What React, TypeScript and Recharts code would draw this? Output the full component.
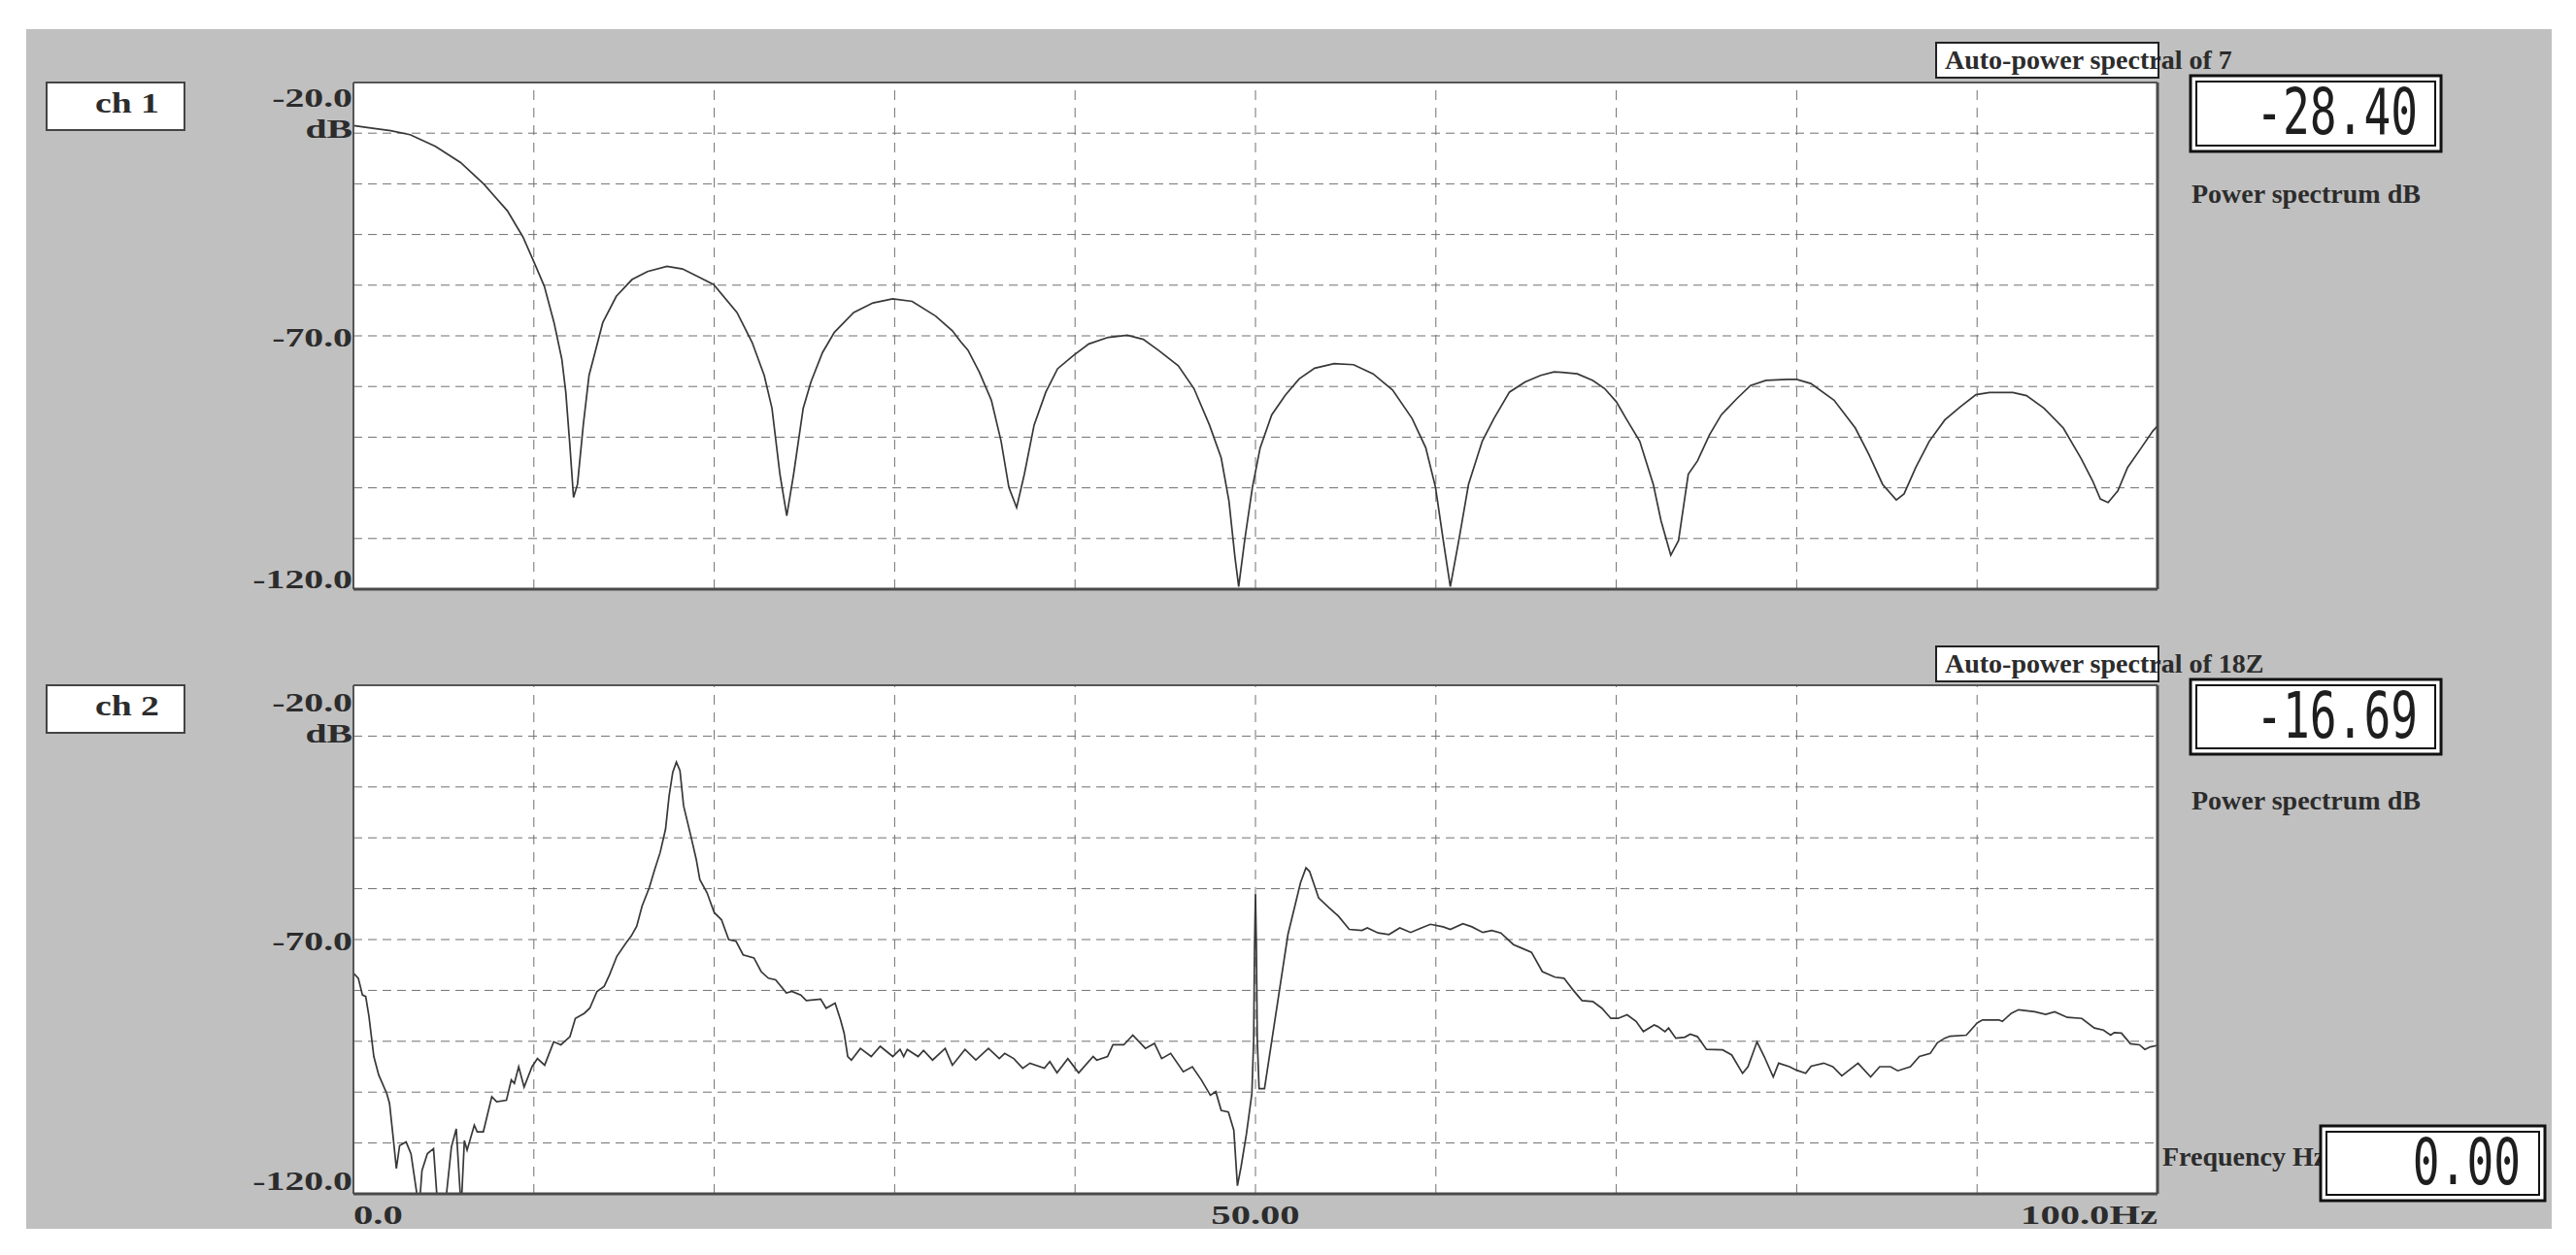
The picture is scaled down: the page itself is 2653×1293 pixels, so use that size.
import React from "react";
import { LineChart, Line, XAxis, YAxis, CartesianGrid, ReferenceLine } from "recharts";

// ---------- data ----------
const ch1Freq = [
  0, 0.76, 2.06, 3.14, 4.54, 5.94, 7.24, 8.53, 9.4, 10.04, 10.58, 11.12, 11.55, 11.77, 11.98, 12.2, 12.42, 12.74,
  13.06, 13.39, 13.82, 14.57, 15.44, 16.3, 17.38, 18.24, 19.1, 19.97, 21.26, 22.1, 22.77, 23.2, 23.64, 24.02, 24.4,
  24.93, 25.36, 26.0, 26.66, 27.73, 28.8, 29.89, 30.97, 32.27, 33.2, 33.67, 34.06, 34.7, 35.36, 35.9, 36.33, 36.76,
  37.19, 37.73, 38.38, 39.03, 39.9, 40.76, 41.84, 42.9, 43.78, 44.64, 45.72, 46.59, 47.45, 48.1, 48.53, 48.86, 49.07,
  49.4, 49.83, 50.26, 50.9, 51.66, 52.42, 53.28, 54.36, 55.44, 56.52, 57.6, 58.68, 59.44, 59.98, 60.41, 60.8, 61.27,
  61.81, 62.57, 63.22, 64.08, 64.95, 65.81, 66.55, 67.0, 67.84, 68.7, 69.35, 70.0, 70.54, 71.3, 72.05, 72.48, 73.02,
  73.45, 73.99, 74.5, 75.17, 75.82, 76.68, 77.44, 78.3, 79.48, 80.0, 80.78, 82.07, 83.25, 84.0, 84.76, 85.52, 85.95,
  86.6, 87.35, 88.21, 89.07, 89.94, 90.69, 91.98, 92.74, 93.71, 94.78, 95.75, 96.4, 96.83, 97.26, 97.8, 98.34, 99.1,
  99.74, 100,
];
const ch1Db = [
  -28.5, -28.9, -29.5, -30.3, -32.6, -35.8, -40.1, -45.3, -50.5, -55.7, -60.2, -67.4, -74.6, -81.1, -90.8, -101.9,
  -99.3, -87.6, -77.8, -73.3, -67.4, -62.2, -58.9, -57.3, -56.3, -56.8, -58.3, -59.9, -65.4, -71.3, -77.8, -84.3,
  -97.3, -105.5, -97.3, -84.3, -79.1, -73.3, -69.3, -65.4, -63.5, -62.7, -63.2, -66.1, -69.0, -71.2, -72.8, -77.2,
  -82.7, -90.8, -99.9, -103.9, -97.3, -87.6, -81.1, -76.5, -73.9, -71.6, -70.3, -69.9, -70.7, -72.9, -75.9, -80.4,
  -87.6, -94.1, -102.6, -113.6, -119.5, -110.4, -99.9, -92.1, -85.6, -81.7, -78.5, -76.4, -75.5, -75.7, -77.5, -80.7,
  -86.3, -92.1, -99.9, -110.4, -119.5, -110.4, -99.3, -90.8, -86.3, -81.1, -79.1, -77.8, -77.1, -77.2, -77.5, -78.8,
  -80.4, -83.0, -86.3, -90.8, -99.3, -106.5, -113.3, -110.4, -97.3, -94.7, -89.5, -85.6, -82.4, -79.8, -78.8, -78.6,
  -78.6, -79.4, -82.7, -88.2, -93.4, -99.3, -102.4, -101.2, -96.0, -90.8, -86.6, -84.0, -81.6, -81.2, -81.2, -81.8,
  -84.3, -88.2, -94.1, -98.6, -102.2, -102.9, -100.6, -96.0, -92.1, -88.8, -87.8,
];

const ch2Freq = [
  0, 0.27, 0.5, 0.68, 0.86, 1.13, 1.4, 1.85, 2.0, 2.2, 2.38, 2.56, 2.92, 3.19, 3.64, 3.8, 4.1, 4.44, 4.68, 5.07, 5.43,
  5.7, 5.97, 6.15, 6.3, 6.7, 6.86, 7.2, 7.67, 7.94, 8.48, 8.75, 8.92, 9.16, 9.46, 9.9, 10.2, 10.6, 11.1, 11.5, 12.0,
  12.3, 12.8, 13.1, 13.5, 13.9, 14.2, 14.6, 15.1, 15.4, 15.7, 16.0, 16.4, 16.7, 17.0, 17.3, 17.5, 17.7, 17.9, 18.1,
  18.3, 18.7, 19.0, 19.2, 19.6, 20.0, 20.4, 20.8, 21.2, 21.6, 22.2, 22.6, 23.0, 23.4, 24.0, 24.3, 24.8, 25.1, 25.9,
  26.2, 26.7, 27.0, 27.2, 27.4, 27.6, 28.1, 28.7, 29.2, 29.9, 30.3, 30.5, 30.7, 31.3, 31.6, 32.1, 32.8, 33.2, 33.9,
  34.5, 35.2, 35.8, 36.1, 36.6, 37.1, 37.5, 38.3, 38.6, 39.0, 39.6, 40.2, 41.0, 41.2, 41.8, 42.1, 42.7, 43.2, 43.9,
  44.4, 44.8, 45.3, 46.0, 46.5, 47.0, 47.5, 47.8, 48.1, 48.5, 48.8, 49.0, 49.2, 49.5, 49.8, 49.9, 49.95, 50.0, 50.05,
  50.1, 50.2, 50.5, 51.8, 52.5, 52.8, 53.0, 53.5, 54.1, 54.6, 55.2, 55.9, 56.2, 56.8, 57.4, 58.0, 58.6, 59.2, 59.7,
  60.4, 60.8, 61.5, 62.0, 62.6, 63.1, 63.6, 64.3, 64.7, 65.3, 65.9, 66.6, 67.1, 67.6, 68.1, 68.7, 69.2, 69.7, 70.1,
  70.6, 71.1, 71.5, 72.1, 72.3, 72.7, 72.9, 73.3, 73.8, 74.1, 74.5, 75.0, 75.9, 76.4, 77.0, 77.3, 77.8, 78.2, 78.7,
  79.0, 79.6, 80.0, 80.5, 80.8, 81.5, 82.0, 82.5, 83.4, 84.1, 84.6, 85.2, 85.6, 86.3, 86.8, 87.4, 87.8, 88.2, 88.5,
  89.4, 90.0, 90.3, 91.2, 91.4, 91.9, 92.3, 93.2, 93.8, 94.3, 95.0, 95.8, 96.5, 97.0, 97.4, 97.6, 98.0, 98.5, 99.0,
  99.3, 99.6, 100,
];
const ch2Db = [
  -76.6, -77.6, -80.9, -81.2, -85.1, -93.0, -96.6, -100.3, -102.2, -108.8, -115.0, -110.5, -109.8, -112.1, -123.0,
  -115.4, -112.1, -111.1, -123.0, -123.0, -110.8, -107.2, -123.0, -109.5, -111.4, -106.5, -107.8, -107.8, -100.9,
  -101.9, -101.6, -97.6, -98.3, -95.0, -99.0, -95.0, -93.4, -94.7, -90.1, -90.7, -89.1, -85.5, -84.5, -83.5, -80.2,
  -79.2, -76.9, -73.3, -70.7, -69.3, -67.4, -63.4, -59.8, -56.2, -52.9, -48.3, -41.7, -37.1, -35.1, -36.8, -43.7,
  -49.6, -54.2, -58.2, -60.8, -64.7, -66.1, -70.0, -70.3, -73.0, -73.6, -76.3, -77.6, -77.9, -80.5, -80.2, -80.9,
  -82.0, -81.7, -83.5, -82.5, -85.8, -88.4, -93.0, -93.7, -91.4, -93.0, -91.0, -93.0, -91.6, -93.0, -91.6, -93.0,
  -91.8, -93.7, -91.4, -94.7, -91.6, -93.7, -91.4, -93.4, -92.4, -93.4, -95.3, -94.3, -95.3, -94.0, -96.2, -93.4,
  -96.2, -93.0, -93.7, -93.0, -90.7, -90.7, -88.8, -91.4, -90.4, -93.4, -92.4, -96.0, -95.0, -97.6, -100.6, -99.9,
  -103.6, -103.9, -107.5, -118.4, -114.7, -108.2, -100.3, -89.7, -71.0, -61.1, -71.0, -89.7, -99.3, -99.3, -69.0,
  -58.8, -55.9, -56.6, -61.8, -63.8, -65.4, -68.0, -68.2, -67.7, -68.7, -69.0, -67.7, -68.6, -67.7, -67.0, -67.5,
  -68.0, -66.9, -67.5, -68.6, -68.2, -68.7, -71.0, -71.6, -72.5, -76.3, -77.4, -77.6, -79.9, -82.0, -82.2, -83.5,
  -85.5, -85.5, -84.8, -86.1, -88.1, -86.8, -87.1, -88.1, -87.4, -89.4, -89.2, -88.6, -89.1, -91.6, -91.7, -92.7,
  -96.3, -95.0, -90.1, -93.0, -97.0, -94.3, -95.0, -95.7, -96.3, -94.9, -94.3, -95.0, -96.8, -94.3, -97.0, -95.0,
  -95.0, -95.8, -95.0, -93.0, -92.4, -90.3, -89.4, -89.0, -88.8, -86.4, -85.8, -85.8, -86.1, -84.5, -83.8, -84.2,
  -84.7, -84.2, -85.3, -85.5, -87.4, -87.8, -88.8, -88.3, -88.4, -90.5, -90.7, -91.6, -91.1, -90.8,
];

const yTicks = [-20, -70, -120];
const yTickLabels = ["-20.0", "-70.0", "-120.0"];
const yUnit = "dB";
const xTicks = [0, 50, 100];
const xTickLabels = ["0.0", "50.00", "100.0Hz"];
const gridDb = [-30, -40, -50, -60, -70, -80, -90, -100, -110];
const gridHz = [10, 20, 30, 40, 50, 60, 70, 80, 90];
const channelNames = ["ch 1", "ch 2"];
const chartTitles = ["Auto-power spectral of 7", "Auto-power spectral of 18Z"];
const readouts = ["-28.40", "-16.69"];
const readoutLabel = "Power spectrum dB";
const freqLabel = "Frequency Hz";
const freqReadout = "0.00";

const ch1Data = ch1Freq.map((f, i) => ({ f, db: ch1Db[i] }));
const ch2Data = ch2Freq.map((f, i) => ({ f, db: ch2Db[i] }));

// ---------- styling ----------
const SERIF = "'Liberation Serif', 'Times New Roman', serif";
const MONO = "'DejaVu Sans Mono', monospace";
const TXT = "#2c2c2c";

const makeYTick = (topDy: number, unitDy: number, bottomDy: number) => (props: any) => {
  const { x, y, payload } = props;
  const v = payload.value;
  const idx = yTicks.indexOf(v);
  const label = idx >= 0 ? yTickLabels[idx] : String(v);
  const isTop = idx === 0;
  const isBottom = idx === yTicks.length - 1;
  const by = isTop ? y + topDy : isBottom ? y + bottomDy : y + 11;
  const st = { fontFamily: SERIF, fontWeight: 700, fontSize: 28, fill: TXT } as any;
  return (
    <g>
      <text transform={`translate(${x - 1},${by}) scale(1.42,1)`} textAnchor="end" style={st}>
        {label}
      </text>
      {isTop && (
        <text transform={`translate(${x - 1},${y + unitDy}) scale(1.42,1)`} textAnchor="end" style={st}>
          {yUnit}
        </text>
      )}
    </g>
  );
};

const XTick = (props: any) => {
  const { x, y, payload } = props;
  const v = payload.value;
  const idx = xTicks.indexOf(v);
  const label = idx >= 0 ? xTickLabels[idx] : String(v);
  const anchor = idx === 0 ? "start" : idx === xTicks.length - 1 ? "end" : "middle";
  return (
    <text
      transform={`translate(${x},${y + 31}) scale(1.45,1)`}
      textAnchor={anchor}
      style={{ fontFamily: SERIF, fontWeight: 700, fontSize: 28, fill: TXT }}
    >
      {label}
    </text>
  );
};

function SpectrumChart({ data, showX, yTick }: { data: any[]; showX: boolean; yTick: any }) {
  return (
    <LineChart
      width={2240}
      height={showX ? 643 : 650}
      data={data}
      margin={showX ? { top: 56, right: 18, bottom: 23, left: 0 } : { top: 85, right: 18, bottom: 43, left: 0 }}
    >
      <CartesianGrid fill="#ffffff" horizontal={false} vertical={false} stroke="none" />
      <XAxis
        dataKey="f"
        type="number"
        domain={[0, 100]}
        ticks={xTicks}
        interval={0}
        hide={!showX}
        height={40}
        tickSize={0}
        tickMargin={0}
        axisLine={false}
        tickLine={false}
        tick={<XTick />}
      />
      <YAxis
        type="number"
        domain={[-120, -20]}
        allowDataOverflow
        ticks={yTicks}
        interval={0}
        width={364}
        tickSize={0}
        tickMargin={0}
        axisLine={false}
        tickLine={false}
        tick={yTick}
      />
      {gridDb.map((v) => (
        <ReferenceLine key={"gy" + v} y={v} stroke="#707070" strokeWidth={1} strokeDasharray="9 6" />
      ))}
      {gridHz.map((v) => (
        <ReferenceLine key={"gx" + v} x={v} stroke="#707070" strokeWidth={1} strokeDasharray="10 8" />
      ))}
      <Line
        type="linear"
        dataKey="db"
        stroke="#383838"
        strokeWidth={1.7}
        dot={false}
        activeDot={false}
        isAnimationActive={false}
      />
      <ReferenceLine x={0} stroke="#555555" strokeWidth={2} />
      <ReferenceLine y={-20} stroke="#555555" strokeWidth={2} />
      <ReferenceLine x={100} stroke="#4a4a4a" strokeWidth={3} />
      <ReferenceLine y={-120} stroke="#4a4a4a" strokeWidth={3} />
    </LineChart>
  );
}

function Readout({ x, y, w, h, value, right, base }: any) {
  return (
    <g>
      <rect x={x} y={y} width={w} height={h} fill="#ffffff" stroke="#111" strokeWidth={3} />
      <rect x={x + 6} y={y + 6} width={w - 12} height={h - 12} fill="#ffffff" stroke="#111" strokeWidth={2} />
      <text
        transform={`translate(${right},${base}) scale(0.7,1)`}
        textAnchor="end"
        style={{ fontFamily: MONO, fontSize: 66, fill: "#1e1e1e" }}
      >
        {value}
      </text>
    </g>
  );
}

function TitleBox({ y, base, text }: any) {
  return (
    <g>
      <rect x={1994} y={y} width={229} height={36} fill="#ffffff" />
      <text x={2003} y={base} style={{ fontFamily: SERIF, fontWeight: 700, fontSize: 28, fill: TXT }}>
        {text}
      </text>
      <rect x={1994} y={y} width={229} height={36} fill="none" stroke="#222" strokeWidth={2} />
    </g>
  );
}

function ChBox({ y, text }: any) {
  return (
    <g>
      <rect x={48} y={y} width={142} height={49} fill="#ffffff" stroke="#444" strokeWidth={2} />
      <text
        transform={`translate(98,${y + 31}) scale(1.3,1)`}
        style={{ fontFamily: SERIF, fontWeight: 700, fontSize: 29, fill: TXT }}
      >
        {text}
      </text>
    </g>
  );
}

export default function App() {
  const lbl = { fontFamily: SERIF, fontWeight: 700, fontSize: 28, fill: TXT } as any;
  return (
    <div style={{ position: "absolute", left: 0, top: 0, width: 2653, height: 1293, background: "#ffffff" }}>
      <svg width={2653} height={1293} style={{ position: "absolute", left: 0, top: 0 }}>
        <rect x={27} y={30} width={2601} height={1236} fill="#c0c0c0" />
      </svg>
      <div style={{ position: "absolute", left: 0, top: 0 }}>
        <SpectrumChart data={ch1Data} showX={false} yTick={makeYTick(25, 57, -1)} />
      </div>
      <div style={{ position: "absolute", left: 0, top: 650 }}>
        <SpectrumChart data={ch2Data} showX={true} yTick={makeYTick(27, 59, -4)} />
      </div>
      <svg width={2653} height={1293} style={{ position: "absolute", left: 0, top: 0, pointerEvents: "none" }}>
        <ChBox y={85} text={channelNames[0]} />
        <ChBox y={706} text={channelNames[1]} />
        <TitleBox y={44} base={71} text={chartTitles[0]} />
        <TitleBox y={666} base={693} text={chartTitles[1]} />
        <Readout x={2256} y={78} w={258} h={78} value={readouts[0]} right={2490} base={138} />
        <Readout x={2256} y={700} w={258} h={77} value={readouts[1]} right={2490} base={760} />
        <text x={2257} y={209} style={lbl}>{readoutLabel}</text>
        <text x={2257} y={834} style={lbl}>{readoutLabel}</text>
        <text x={2227} y={1201} style={lbl}>{freqLabel}</text>
        <Readout x={2390} y={1160} w={231} h={77} value={freqReadout} right={2596} base={1220} />
      </svg>
    </div>
  );
}
